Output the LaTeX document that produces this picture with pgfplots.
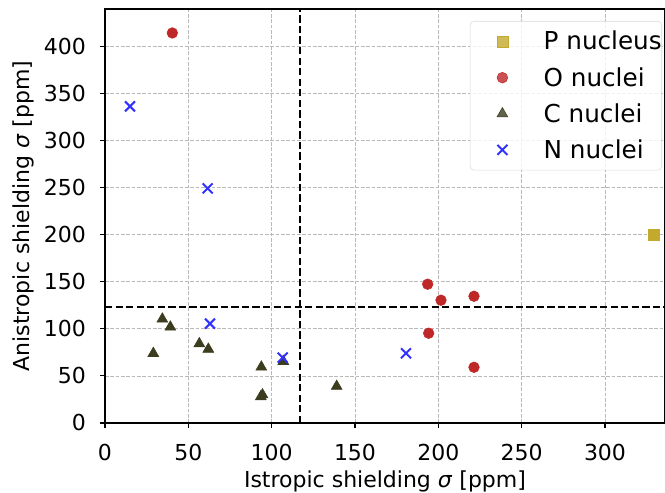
\documentclass[border=0pt]{standalone}
\usepackage{pgfplots}
\pgfplotsset{compat=1.18}
\usepackage{fontspec}
\setmainfont{DejaVu Sans}
\usetikzlibrary{calc}
\definecolor{pcol}{RGB}{196,170,44}
\definecolor{ocol}{RGB}{190,40,40}
\definecolor{ccol}{RGB}{60,60,30}
\definecolor{ncol}{RGB}{50,50,255}
\newcommand{\ff}{\fontsize{16.5}{19}\selectfont}
\newcommand{\lf}{\fontsize{18.5}{21}\selectfont}
\pgfplotsset{myleg/.style={legend image code/.code={%
  \path (-24pt,0pt) (30.75pt,0pt);
  \draw[##1] plot coordinates {(0pt,0pt)};}}}
\begin{document}
\begin{tikzpicture}
\begin{axis}[
  width=420pt, height=310.5pt, scale only axis,
  xmin=0, xmax=336, ymin=0, ymax=440,
  xtick={0,50,...,300}, ytick={0,50,...,400},
  xtick pos=bottom, ytick pos=left,
  tick align=outside, major tick length=3.75pt,
  tick style={black, line width=0.8pt},
  axis line style={black, line width=0.8pt},
  grid=major,
  grid style={gray!55, line width=0.6pt, dash pattern=on 2.8pt off 1.2pt},
  /pgf/number format/assume math mode=true,
  ticklabel style={font=\ff},
  xticklabel style={yshift=-8.25pt},
  yticklabel style={xshift=-7pt},
  label style={font=\ff},
  xlabel={Istropic shielding \textit{σ} [ppm]},
  ylabel={Anistropic shielding \textit{σ} [ppm]},
  xlabel style={at={(axis description cs:0.5,-0.157)}, anchor=base},
  ylabel style={at={(axis description cs:-0.134,0.5)}, anchor=base},
  legend cell align=left,
  legend style={at={(1,1)}, anchor=north east, xshift=-2.25pt, yshift=-9pt,
    draw=gray!30, rounded corners=3pt, fill=white, fill opacity=0.8, text opacity=1,
    font=\lf, row sep=11.5pt, inner xsep=0pt, inner ysep=7.5pt,
    nodes={inner xsep=0pt, inner ysep=0pt}},
]
\addplot[forget plot, black, line width=1.5pt, dash pattern=on 5.5pt off 2.4pt] coordinates {(117,0) (117,440)};
\addplot[forget plot, black, line width=1.5pt, dash pattern=on 5.5pt off 2.4pt] coordinates {(0,123) (336,123)};
\addplot[only marks, mark=square*, mark size=4.1pt, color=pcol, myleg] coordinates {(329,200)};
\addlegendentry{P nucleus\hspace{7.5pt}}
\addplot[only marks, mark=*, mark size=4pt, color=ocol, myleg] coordinates {
(40.4,414.5) (193.6,147.5) (201.6,130.5) (221.4,134.7) (194.2,95.4) (221.4,59.2)};
\addlegendentry{O nuclei}
\addplot[only marks, mark=triangle*, mark size=4.7pt, color=ccol, myleg] coordinates {
(34.4,110.5) (39.2,102) (29,74) (56.6,84.3) (62,78.5) (93.8,59.5) (93.5,28) (94.5,30) (107,65.5) (139,39)};
\addlegendentry{C nuclei}
\addplot[only marks, mark=x, mark size=5.3pt, color=ncol, mark options={line width=1.5pt}, myleg] coordinates {
(15,336.5) (61.6,249.3) (63,105.6) (106.6,69.5) (180.6,74.1)};
\addlegendentry{N nuclei}
\end{axis}
\pgfresetboundingbox
\path ($(current axis.south west)+(-78.75pt,-52.5pt)$) rectangle ($(current axis.north east)+(0pt,6.75pt)$);
\end{tikzpicture}
\end{document}
